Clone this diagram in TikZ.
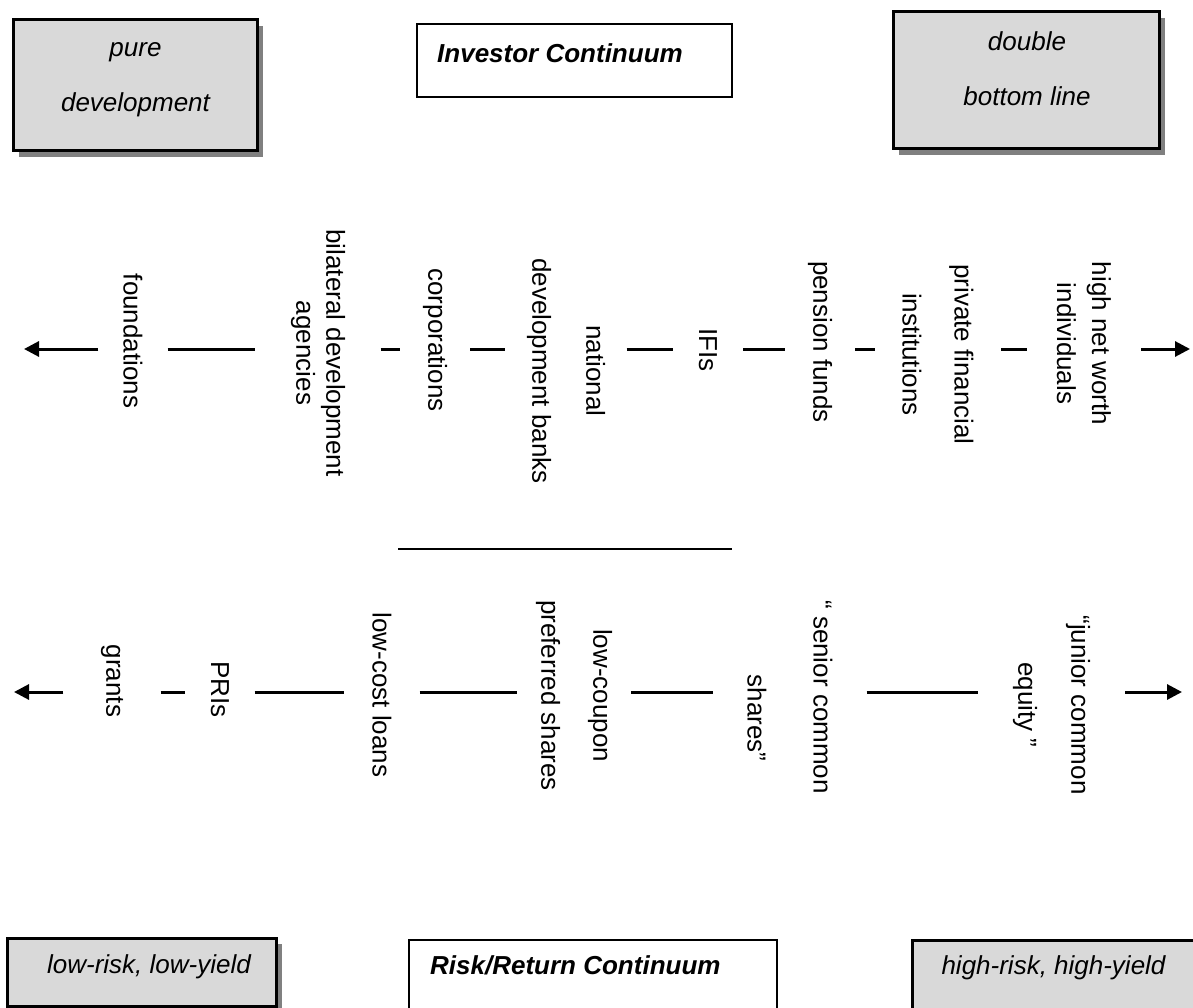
\documentclass[tikz,border=0pt]{standalone}
\usepackage{fontspec}
\setmainfont{Liberation Sans}
\usetikzlibrary{arrows.meta,shadows}
\tikzset{
  greybox/.style={draw=black, line width=3pt, fill=black!15,
    drop shadow={shadow xshift=6pt, shadow yshift=-6pt, fill=black!50, opacity=1}},
  plainbox/.style={draw=black, line width=2pt, fill=white},
  boxtext/.style={font=\fontsize{26}{30}\selectfont\itshape, align=center, inner sep=0pt},
  titletext/.style={font=\fontsize{26}{30}\selectfont\bfseries\itshape, inner sep=0pt, anchor=west},
  entity/.style={font=\fontsize{26}{30}\selectfont, align=center, rotate=-90, inner sep=0pt},
  link/.style={line width=3pt},
  endarrow/.style={line width=3pt, -{Triangle[length=15pt,width=15pt]}}
}

\begin{document}
\begin{tikzpicture}[x=1pt,y=-1pt]
	\useasboundingbox (0,0) rectangle (1193,1008);
	
	% boxes at the top
	\draw[greybox] (13,20) rectangle (257,151);
	\node[boxtext] (puredev) at (135.5,79.5) {pure\\[25pt]development};
	\draw[plainbox] (417,24) rectangle (732,97);
	\node[titletext] (investor) at (437,53) {Investor Continuum};
	\draw[greybox] (893,12) rectangle (1159,149);
	\node[boxtext] (dblbottom) at (1027,68.5) {double\\[25pt]bottom line};
	
	% investor continuum
	\coordinate (invL) at (24,349);
	\coordinate (invR) at (1190,349);
	\node[entity, minimum height=69pt] (found) at (133,341) {foundations};
	\node[entity, minimum height=125pt] (bilat) at (318,353) {bilateral development\\agencies};
	\node[entity, minimum height=70pt] (corp) at (435,340) {corporations};
	\node[entity, minimum height=121pt] (natbank) at (566,371) {national\\[24pt]development banks};
	\node[entity, minimum height=70pt] (ifi) at (708,350) {IFIs};
	\node[entity, minimum height=70pt] (pension) at (820,342) {pension funds};
	\node[entity, minimum height=126pt] (privfin) at (938,354.5) {private financial\\[22pt]institutions};
	\node[entity, minimum height=114pt] (hnwi) at (1084,343.5) {high net worth\\[5pt]individuals};
	
	\draw[endarrow] (found.south |- invL) -- (invL);
	\draw[link] (found.north |- invL) -- (bilat.south |- invL);
	\draw[link] (bilat.north |- invL) -- (corp.south |- invL);
	\draw[link] (corp.north |- invL) -- (natbank.south |- invL);
	\draw[link] (natbank.north |- invL) -- (ifi.south |- invL);
	\draw[link] (ifi.north |- invL) -- (pension.south |- invL);
	\draw[link] (pension.north |- invL) -- (privfin.south |- invL);
	\draw[link] (privfin.north |- invL) -- (hnwi.south |- invL);
	\draw[endarrow] (hnwi.north |- invR) -- (invR);
	
	\draw[line width=2pt] (398,549) -- (732,549);
	
	% risk/return continuum
	\coordinate (riskL) at (14,692);
	\coordinate (riskR) at (1182,692);
	\node[entity, minimum height=97pt] (grants) at (112,681) {grants};
	\node[entity, minimum height=69pt] (pri) at (220,689.5) {PRIs};
	\node[entity, minimum height=75pt] (loans) at (382,695) {low-cost loans};
	\node[entity, minimum height=114pt] (coupon) at (574,695.5) {low-coupon\\[22pt]preferred shares};
	\node[entity, minimum height=153pt] (senior) at (790,697) {“ senior common\\[36pt]\hspace*{42pt}shares”};
	\node[entity, minimum height=147pt] (junior) at (1051.5,705) {“junior common\\[23pt]equity ”};
	
	\draw[endarrow] (grants.south |- riskL) -- (riskL);
	\draw[link] (grants.north |- riskL) -- (pri.south |- riskL);
	\draw[link] (pri.north |- riskL) -- (loans.south |- riskL);
	\draw[link] (loans.north |- riskL) -- (coupon.south |- riskL);
	\draw[link] (coupon.north |- riskL) -- (senior.south |- riskL);
	\draw[link] (senior.north |- riskL) -- (junior.south |- riskL);
	\draw[endarrow] (junior.north |- riskR) -- (riskR);
	
	% boxes at the bottom
	\draw[greybox] (7,938) rectangle (276,1006);
	\node[boxtext] (lowrisk) at (149,967) {low-risk, low-yield};
	\draw[plainbox] (409,940) rectangle (777,1012);
	\node[titletext] (riskret) at (430,965) {Risk/Return Continuum};
	\draw[greybox] (912,940) rectangle (1205,1014);
	\node[boxtext] (highrisk) at (1053.5,967.5) {high-risk, high-yield};
\end{tikzpicture}
\end{document}
